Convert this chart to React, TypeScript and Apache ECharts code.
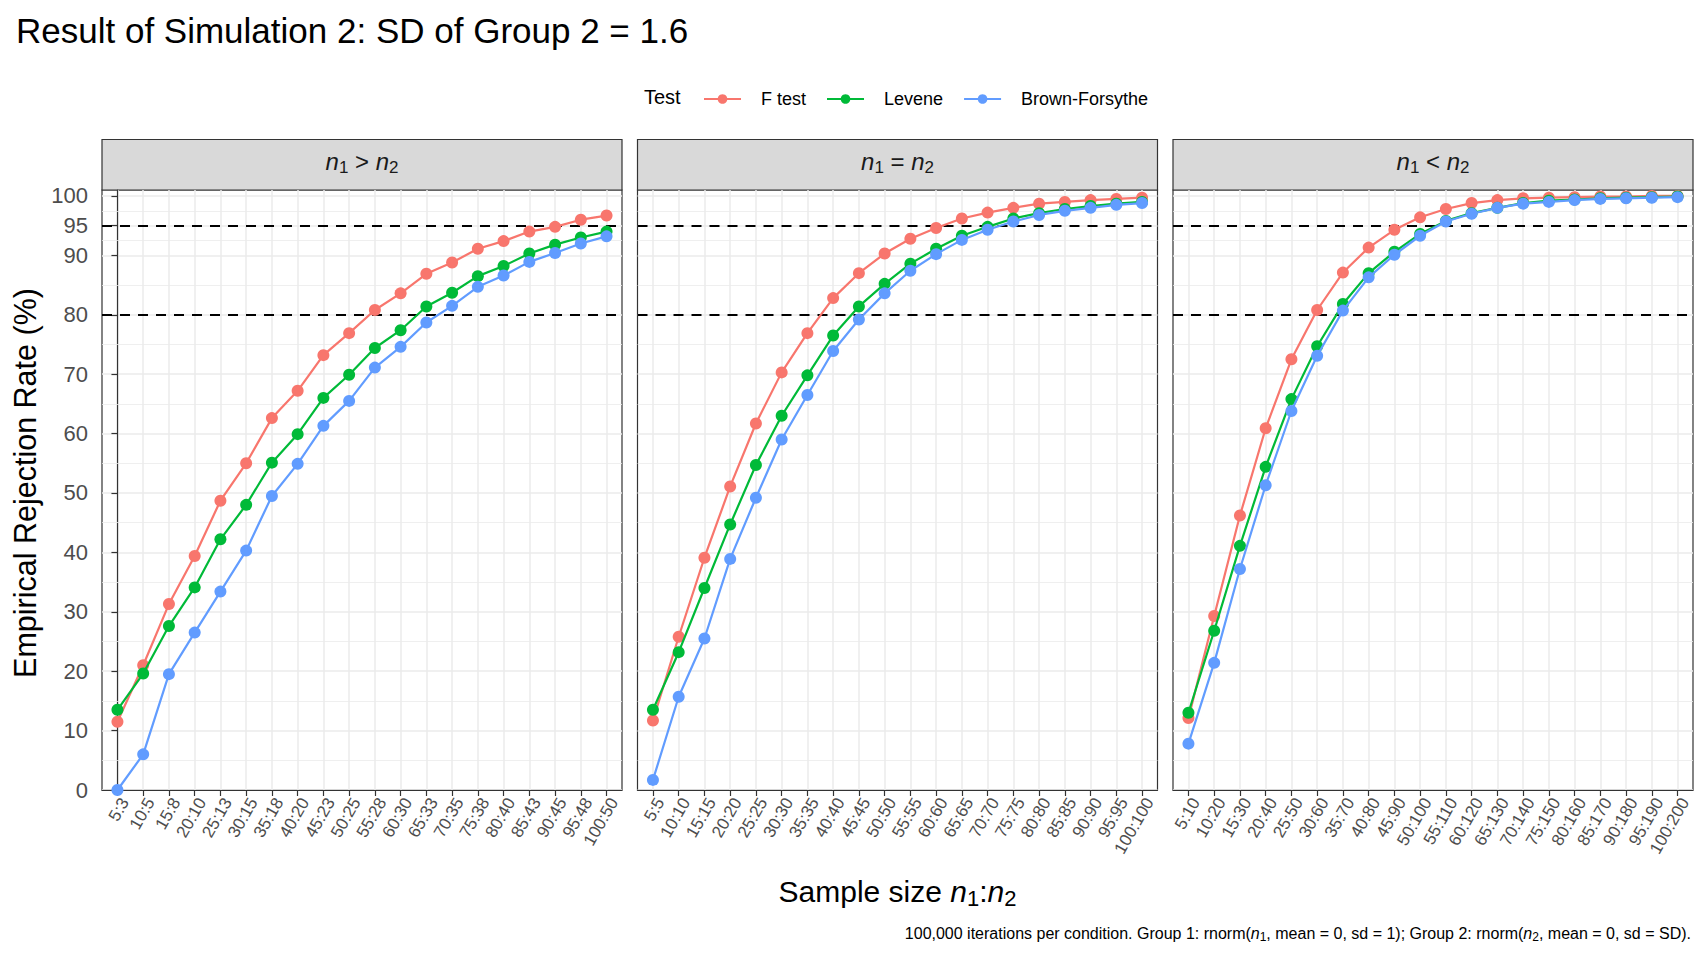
import React, { useEffect, useRef } from "react";
import * as echarts from "echarts";

// sample size labels per panel
const CATS_GT = ["5:3", "10:5", "15:8", "20:10", "25:13", "30:15", "35:18", "40:20", "45:23", "50:25", "55:28", "60:30", "65:33", "70:35", "75:38", "80:40", "85:43", "90:45", "95:48", "100:50"];
const CATS_EQ = ["5:5", "10:10", "15:15", "20:20", "25:25", "30:30", "35:35", "40:40", "45:45", "50:50", "55:55", "60:60", "65:65", "70:70", "75:75", "80:80", "85:85", "90:90", "95:95", "100:100"];
const CATS_LT = ["5:10", "10:20", "15:30", "20:40", "25:50", "30:60", "35:70", "40:80", "45:90", "50:100", "55:110", "60:120", "65:130", "70:140", "75:150", "80:160", "85:170", "90:180", "95:190", "100:200"];

const TESTS = ["F test", "Levene", "Brown-Forsythe"];
const COLORS = ["#F8766D", "#00BA38", "#619CFF"];

// rejection rate (%), n1 > n2
const GT_F = [11.5, 21.0, 31.3, 39.4, 48.7, 55.0, 62.6, 67.2, 73.2, 76.9, 80.8, 83.6, 86.9, 88.8, 91.1, 92.4, 94.0, 94.8, 96.0, 96.7];
const GT_LEV = [13.5, 19.6, 27.6, 34.1, 42.2, 48.0, 55.1, 59.9, 66.0, 69.9, 74.4, 77.4, 81.4, 83.7, 86.5, 88.2, 90.3, 91.8, 93.0, 94.0];
const GT_BF = [0.0, 6.0, 19.5, 26.5, 33.4, 40.3, 49.5, 54.9, 61.3, 65.5, 71.1, 74.6, 78.7, 81.5, 84.7, 86.6, 88.9, 90.4, 92.0, 93.2];

// n1 = n2
const EQ_F = [11.7, 25.8, 39.1, 51.1, 61.7, 70.3, 76.9, 82.8, 87.0, 90.3, 92.8, 94.6, 96.2, 97.2, 98.0, 98.7, 99.0, 99.3, 99.5, 99.7];
const EQ_LEV = [13.5, 23.2, 34.0, 44.7, 54.7, 63.0, 69.8, 76.5, 81.4, 85.2, 88.6, 91.1, 93.3, 94.8, 96.2, 97.1, 97.8, 98.3, 98.7, 99.0];
const EQ_BF = [1.7, 15.7, 25.5, 38.9, 49.2, 59.0, 66.5, 73.9, 79.2, 83.6, 87.4, 90.2, 92.6, 94.3, 95.7, 96.8, 97.5, 98.0, 98.5, 98.8];

// n1 < n2
const LT_F = [12.1, 29.3, 46.2, 60.9, 72.5, 80.8, 87.1, 91.3, 94.3, 96.4, 97.8, 98.8, 99.3, 99.6, 99.7, 99.8, 99.9, 99.9, 100.0, 100.0];
const LT_LEV = [13.0, 26.8, 41.1, 54.4, 65.8, 74.7, 81.8, 87.0, 90.6, 93.6, 95.8, 97.1, 98.0, 98.8, 99.2, 99.4, 99.6, 99.7, 99.8, 99.9];
const LT_BF = [7.8, 21.4, 37.2, 51.3, 63.8, 73.1, 80.7, 86.3, 90.1, 93.3, 95.7, 97.0, 98.0, 98.7, 99.0, 99.3, 99.5, 99.6, 99.7, 99.8];

const Y_BREAKS = [0, 10, 20, 30, 40, 50, 60, 70, 80, 90, 95, 100];
const REF_LINES = [80, 95];

const PANELS = [
  { cats: CATS_GT, values: [GT_F, GT_LEV, GT_BF], strip: "{i|n}{s|1} > {i|n}{s|2}" },
  { cats: CATS_EQ, values: [EQ_F, EQ_LEV, EQ_BF], strip: "{i|n}{s|1} = {i|n}{s|2}" },
  { cats: CATS_LT, values: [LT_F, LT_LEV, LT_BF], strip: "{i|n}{s|1} < {i|n}{s|2}" },
];

const FONT = "Liberation Sans, Arial, sans-serif";
const PANEL_LEFT = [102, 637.5, 1173];
const PANEL_W = 520;
const PANEL_TOP = 190;
const PANEL_H = 600;
const STRIP_H = 50.5;

// italic n with a lowered subscript digit
const subRich = (size: number, color: string) => {
  const sub = Math.round(size * 0.72);
  const lh = sub + Math.round(size * 0.5);
  return {
    lineHeight: lh,
    rich: {
      i: { fontStyle: "italic", fontSize: size, fontFamily: FONT, color, lineHeight: lh },
      s: { fontSize: sub, fontFamily: FONT, color, lineHeight: sub, verticalAlign: "bottom" },
    },
  };
};

const App = () => {
  const chartRef = useRef<HTMLDivElement>(null);

  useEffect(() => {
    document.body.style.margin = "0";
    if (!chartRef.current) return;
    const chart = echarts.init(chartRef.current, null, { renderer: "svg" });

    const minor: number[] = [];
    for (let k = 0; k < Y_BREAKS.length - 1; k++) {
      minor.push((Y_BREAKS[k] + Y_BREAKS[k + 1]) / 2);
    }

    const grids = PANELS.map((_, i) => ({
      left: PANEL_LEFT[i],
      top: PANEL_TOP,
      width: PANEL_W,
      height: PANEL_H,
      show: true,
      backgroundColor: "#fff",
      borderColor: "#333333",
      borderWidth: 1.2,
      outerBoundsMode: "none",
      containLabel: false,
    }));

    const xAxes = PANELS.map((p, i) => {
      const idx = p.cats.map((_, k) => k);
      return {
        type: "value",
        gridIndex: i,
        min: -0.6,
        max: p.cats.length - 0.4,
        axisLine: { show: true, onZero: false, lineStyle: { color: "#333333", width: 1.2 } },
        axisTick: { show: true, customValues: idx, length: 6, lineStyle: { color: "#333333", width: 1.2 } },
        axisLabel: {
          customValues: idx,
          rotate: 60,
          margin: 5,
          verticalAlign: "top",
          fontSize: 17,
          fontFamily: FONT,
          color: "#4D4D4D",
          formatter: (v: number) => p.cats[Math.round(v)],
        },
        splitLine: { show: true, lineStyle: { color: "#EBEBEB", width: 1.5 } },
      };
    });

    const yAxes = PANELS.map((_, i) => ({
      type: "value",
      gridIndex: i,
      min: 0,
      max: 101,
      axisLine: { show: i === 0, lineStyle: { color: "#333333", width: 1.2 } },
      axisTick: { show: i === 0, customValues: Y_BREAKS, length: 6, lineStyle: { color: "#333333", width: 1.2 } },
      axisLabel: {
        show: i === 0,
        customValues: Y_BREAKS,
        margin: 14,
        fontSize: 22,
        fontFamily: FONT,
        color: "#4D4D4D",
      },
      splitLine: { show: true, lineStyle: { color: "#EBEBEB", width: 1.5 } },
    }));

    const series: any[] = [];
    PANELS.forEach((p, i) => {
      // minor grid lines and the dashed 80 / 95 reference lines
      series.push({
        type: "line",
        name: "_guides" + i,
        xAxisIndex: i,
        yAxisIndex: i,
        data: [],
        z: 1,
        silent: true,
        markLine: {
          z: 1,
          silent: true,
          symbol: "none",
          label: { show: false },
          emphasis: { disabled: true },
          data: [
            ...minor.map((v) => ({ yAxis: v, lineStyle: { color: "#EBEBEB", width: 0.8, type: "solid" } })),
            ...REF_LINES.map((v) => ({ yAxis: v, lineStyle: { color: "#000", width: 2, type: [10, 8] } })),
          ],
        },
      });
      TESTS.forEach((t, j) => {
        series.push({
          type: "line",
          name: t,
          xAxisIndex: i,
          yAxisIndex: i,
          data: p.values[j].map((v, k) => [k, v]),
          color: COLORS[j],
          symbol: "circle",
          symbolSize: 12,
          showAllSymbol: true,
          lineStyle: { width: 2.2, color: COLORS[j] },
          itemStyle: { color: COLORS[j] },
          z: 3 + j,
          clip: false,
        });
      });
    });

    const graphics: any[] = [
      {
        type: "text",
        x: 16,
        y: 30,
        style: { text: "Result of Simulation 2: SD of Group 2 = 1.6", fontSize: 35, fontFamily: FONT, fill: "#000", verticalAlign: "middle" },
      },
      {
        type: "text",
        x: 644,
        y: 97,
        style: { text: "Test", fontSize: 20, fontFamily: FONT, fill: "#000", verticalAlign: "middle" },
      },
      {
        type: "text",
        x: 25,
        y: PANEL_TOP + PANEL_H / 2 - 7,
        rotation: Math.PI / 2,
        style: { text: "Empirical Rejection Rate (%)", fontSize: 30.5, fontFamily: FONT, fill: "#000", align: "center", verticalAlign: "middle" },
      },
      {
        type: "text",
        x: (PANEL_LEFT[0] + PANEL_LEFT[2] + PANEL_W) / 2,
        y: 891,
        style: {
          text: "Sample size {i|n}{s|1}:{i|n}{s|2}",
          fontSize: 30,
          fontFamily: FONT,
          fill: "#000",
          align: "center",
          verticalAlign: "middle",
          ...subRich(30, "#000"),
        },
      },
      {
        type: "text",
        x: 1691,
        y: 933,
        style: {
          text: "100,000 iterations per condition. Group 1: rnorm({i|n}{s|1}, mean = 0, sd = 1); Group 2: rnorm({i|n}{s|2}, mean = 0, sd = SD).",
          fontSize: 16,
          fontFamily: FONT,
          fill: "#000",
          align: "right",
          verticalAlign: "middle",
          ...subRich(16, "#000"),
        },
      },
    ];

    PANELS.forEach((p, i) => {
      graphics.push({
        type: "rect",
        shape: { x: PANEL_LEFT[i], y: PANEL_TOP - STRIP_H, width: PANEL_W, height: STRIP_H },
        style: { fill: "#D9D9D9", stroke: "#333333", lineWidth: 1.2 },
      });
      graphics.push({
        type: "text",
        x: PANEL_LEFT[i] + PANEL_W / 2,
        y: PANEL_TOP - STRIP_H / 2 - 3,
        style: {
          text: p.strip,
          fontSize: 24,
          fontFamily: FONT,
          fill: "#1A1A1A",
          align: "center",
          verticalAlign: "middle",
          ...subRich(24, "#1A1A1A"),
        },
      });
    });

    chart.setOption({
      animation: false,
      backgroundColor: "#fff",
      grid: grids,
      xAxis: xAxes,
      yAxis: yAxes,
      legend: {
        data: TESTS,
        left: 698,
        top: 85,
        itemWidth: 37,
        itemHeight: 12,
        itemGap: 20,
        selectedMode: false,
        textStyle: { fontSize: 18, fontFamily: FONT, color: "#000", padding: [0, 0, 0, 15] },
      },
      series,
      graphic: graphics,
    });

    return () => {
      chart.dispose();
    };
  }, []);

  return <div ref={chartRef} style={{ width: "1708px", height: "960px" }} />;
};

export default App;
